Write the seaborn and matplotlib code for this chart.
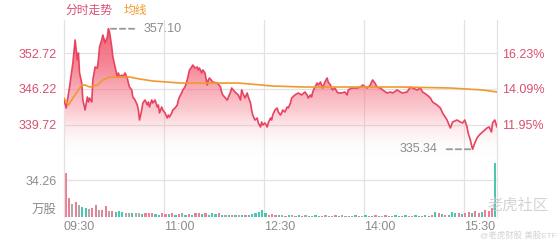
import numpy as np
import pandas as pd
import matplotlib
matplotlib.use("Agg")
import matplotlib.pyplot as plt
import seaborn as sns
from matplotlib.colors import LinearSegmentedColormap

# ---------------- data ----------------
# minutes after 09:30 and last price
price_minutes = [0, 2, 5, 8, 10, 12, 13, 14, 16, 17, 19, 21, 22, 23, 25, 26, 28, 30, 31, 32,
                 34, 35, 37, 39, 40, 41, 43, 44, 46, 48, 49, 50, 52, 53, 55, 57, 58, 59, 61, 62,
                 64, 66, 67, 68, 70, 71, 73, 75, 76, 77, 79, 80, 82, 84, 85, 86, 88, 89, 91, 93,
                 94, 95, 97, 98, 100, 102, 103, 104, 106, 107, 109, 111, 112, 113, 115, 116, 118, 120, 121, 122,
                 124, 125, 127, 129, 130, 131, 134, 138, 141, 142, 143, 147, 150, 151, 154, 157, 159, 160, 161, 163,
                 165, 166, 168, 169, 170, 172, 174, 175, 177, 178, 179, 181, 183, 184, 186, 187, 188, 190, 192, 193,
                 195, 196, 197, 199, 201, 202, 204, 205, 206, 208, 211, 214, 217, 219, 220, 222, 223, 224, 226, 228,
                 229, 231, 232, 233, 235, 237, 238, 240, 241, 242, 244, 246, 247, 250, 253, 255, 256, 259, 262, 264,
                 267, 269, 273, 276, 277, 278, 280, 282, 285, 287, 291, 294, 296, 300, 303, 305, 309, 312, 314, 318,
                 321, 323, 327, 330, 332, 336, 339, 341, 345, 348, 350, 354, 357, 359, 361, 363, 364, 366, 367, 368,
                 370, 372, 374, 377, 381, 383, 385, 386, 388, 390]
price_values = [344.23, 342.79, 346.58, 350.92, 355.07, 351.46, 352.72, 349.11, 347.30, 344.23,
                342.43, 344.78, 343.87, 344.59, 343.87, 347.85, 350.19, 350.01, 351.46, 353.81,
                355.07, 355.97, 354.53, 355.61, 357.10, 356.51, 353.81, 352.00, 350.19, 348.39,
                349.11, 348.39, 348.75, 348.39, 349.11, 348.21, 347.30, 346.58, 346.04, 344.78,
                344.23, 343.33, 342.43, 340.62, 342.43, 343.69, 344.23, 343.33, 343.87, 342.97,
                344.23, 343.69, 344.23, 342.97, 343.33, 341.89, 342.97, 342.43, 341.89, 340.98,
                341.52, 341.16, 341.89, 342.43, 342.79, 343.33, 344.23, 344.78, 345.50, 346.04,
                346.58, 347.85, 348.75, 349.65, 350.19, 350.55, 350.01, 350.19, 349.65, 350.01,
                349.11, 349.65, 349.11, 346.94, 347.85, 348.21, 347.48, 347.30, 346.58, 345.68,
                345.14, 344.23, 345.68, 346.40, 345.68, 345.14, 344.23, 346.04, 345.50, 344.59,
                345.50, 344.78, 343.69, 342.43, 341.52, 340.62, 340.98, 340.08, 339.36, 340.26,
                339.72, 340.08, 339.36, 340.08, 340.98, 340.62, 341.52, 342.43, 342.79, 342.07,
                341.52, 341.89, 342.43, 342.07, 342.97, 342.79, 343.69, 344.59, 344.78, 345.14,
                345.50, 345.14, 345.68, 345.14, 344.59, 345.14, 344.78, 345.68, 346.58, 347.30,
                346.94, 347.48, 346.94, 346.40, 347.48, 348.21, 347.48, 346.94, 346.40, 346.04,
                346.40, 345.68, 345.50, 345.50, 345.68, 345.14, 346.04, 346.40, 346.40, 346.40,
                346.58, 346.94, 346.40, 346.94, 347.48, 347.85, 347.30, 346.58, 346.40, 346.04,
                345.50, 345.68, 345.50, 346.04, 345.68, 345.50, 345.68, 346.58, 346.40, 346.04,
                346.40, 345.68, 345.14, 344.59, 343.87, 343.33, 342.79, 341.89, 340.62, 339.18,
                340.26, 340.62, 340.26, 340.08, 340.62, 339.36, 338.27, 337.01, 336.11, 335.34,
                336.47, 337.37, 337.91, 338.46, 339.18, 339.36, 338.46, 340.08, 340.62, 339.36]

avg_minutes = [0, 4, 8, 13, 16, 19, 23, 30, 35, 41, 48, 53, 59, 68, 80, 93, 104, 116, 131, 157,
               178, 187, 217, 262, 303, 348, 377, 390]
avg_values = [344.59, 343.33, 344.59, 346.04, 346.94, 346.94, 346.58, 346.94, 347.85, 348.39,
              348.39, 348.39, 348.39, 348.03, 347.66, 347.48, 347.30, 347.30, 347.30, 347.30,
              346.94, 346.76, 346.58, 346.58, 346.58, 346.40, 346.04, 345.68]

# volume (万股) in 3-minute buckets, with direction: r = up, g = down, n = flat
volume_values = [40.4, 17, 12, 14, 11, 9, 8, 7, 8, 11, 6, 6, 10, 5, 5, 4.5, 5, 4, 3.5, 3,
                 3.5, 3, 3, 2.5, 3, 3.5, 3, 2.5, 2, 3, 2.5,
                 2.5, 3, 2, 2.5, 3, 2, 2.5, 2, 3, 3.5, 2.5, 3, 2,
                 3, 2.5, 3, 2, 1.5, 2, 1.5, 2, 1.5, 2, 1.5, 2,
                 2.5, 3, 4, 6, 3, 2,
                 2.5, 2, 1.5, 1.5, 1, 1.5, 1.5, 1, 1.5, 1, 1.5, 1, 1, 1.5, 1, 1, 1.5, 1, 1, 1.5,
                 1, 1.5, 1, 1,
                 1, 1.5, 1, 1, 1.5, 1, 1, 1.5, 1, 1, 1.5, 1, 1, 1.5, 1, 1, 1.5, 1, 1, 1.5, 1, 1,
                 1.5, 1, 2,
                 4.5, 3, 2.5, 1.5, 2, 4, 3, 3.5, 2.5, 3, 4, 3, 5, 3, 4, 6, 5, 8, 50]
volume_dirs = list("rrnrnggnrrnrrnrgggnngnngrrrggrr"
                   "grgrngrgrrgrg"
                   "ggrgngrgngrggggggr"
                   "rrgnrgnrgrngrggrnrgrgnrg"
                   "rgrngrgrgnrgrggrgnrggrggr"
                   "grgrgggrgrrgrrgrrr"
                   "g")

left_ticks = [339.72, 346.22, 352.72]
left_labels = ["339.72", "346.22", "352.72"]
right_labels = ["11.95%", "14.09%", "16.23%"]
vol_tick = [34.26]
vol_tick_labels = ["34.26"]
time_ticks = [0, 90, 180, 270, 360]
time_labels = ["09:30", "11:00", "12:30", "14:00", "15:30"]

# ---------------- style ----------------
sns.set_theme(style="white")
plt.rcParams["font.family"] = ["Liberation Sans", "Noto Sans CJK SC", "DejaVu Sans"]

RED = "#e8435f"
LABEL_RED = "#d9506f"
ORANGE = "#f09a2c"
GRID = "#e2e2e2"
GREY_TXT = "#8c8c8c"

fig = plt.figure(figsize=(5.6, 2.4), dpi=100)
W, H = 560, 240
x0, x1 = 64, 497
ax = fig.add_axes([x0 / W, 1 - 158 / H, (x1 - x0) / W, 138 / H])
axv = fig.add_axes([x0 / W, 1 - 216.7 / H, (x1 - x0) / W, 58.7 / H])

price_df = pd.DataFrame({"minute": price_minutes, "price": price_values})
avg_df = pd.DataFrame({"minute": avg_minutes, "avg": avg_values})

ymin, ymax = 333.76, 358.68
ax.set_xlim(0, 390)
ax.set_ylim(ymin, ymax)

# gradient fill under the price line
poly = ax.fill_between(price_minutes, price_values, ymin, color="none", lw=0)
cmap = LinearSegmentedColormap.from_list(
    "fade", [(1, 1, 1, 0.0), (0.96, 0.45, 0.52, 0.35), (0.95, 0.38, 0.46, 0.75),
             (0.94, 0.33, 0.42, 0.95)])
grad = np.linspace(0, 1, 256).reshape(-1, 1)
im = ax.imshow(grad, cmap=cmap, aspect="auto", origin="lower",
               extent=[0, 390, ymin, ymax], zorder=1, interpolation="bicubic")
im.set_clip_path(poly.get_paths()[0], transform=ax.transData)

sns.lineplot(data=price_df, x="minute", y="price", ax=ax, color=RED, lw=1.2, zorder=3)
sns.lineplot(data=avg_df, x="minute", y="avg", ax=ax, color=ORANGE, lw=1.2, zorder=4)

# grid
for a in (ax, axv):
    for t in time_ticks[1:]:
        a.axvline(t, color=GRID, lw=0.9, zorder=0)
    for s in ("top", "bottom"):
        a.spines[s].set_visible(False)
    for s in ("left", "right"):
        a.spines[s].set_color(GRID)
        a.spines[s].set_linewidth(0.9)
for t in left_ticks:
    ax.axhline(t, color=GRID, lw=0.9, zorder=0)

ax.set_xticks([])
ax.set_yticks(left_ticks)
ax.set_yticklabels(left_labels, color=LABEL_RED, fontsize=9)
ax.tick_params(axis="y", length=0, pad=5)
ax.set_xlabel("")
ax.set_ylabel("")

ax2 = ax.twinx()
ax2.set_ylim(ymin, ymax)
ax2.set_yticks(left_ticks)
ax2.set_yticklabels(right_labels, color=LABEL_RED, fontsize=9)
ax2.tick_params(axis="y", length=0, pad=4)
for s in ax2.spines.values():
    s.set_visible(False)

# max / min annotations
imax = int(np.argmax(price_values))
imin = int(np.argmin(price_values))
ax.annotate(f"{price_values[imax]:.2f}", xy=(price_minutes[imax], price_values[imax]),
            xytext=(25, 0), textcoords="offset points", ha="left", va="center",
            fontsize=9, color=GREY_TXT,
            arrowprops=dict(arrowstyle="-", ls=(0, (3, 2)), color="#999999", lw=1.3,
                            shrinkA=4, shrinkB=1.5))
ax.annotate(f"{price_values[imin]:.2f}", xy=(price_minutes[imin], price_values[imin]),
            xytext=(-25, 0), textcoords="offset points", ha="right", va="center",
            fontsize=9, color=GREY_TXT,
            arrowprops=dict(arrowstyle="-", ls=(0, (3, 2)), color="#999999", lw=1.3,
                            shrinkA=4, shrinkB=1.5))

# volume
vol_color = {"r": "#ec7f95", "g": "#4cc6b1", "n": "#aaaaaa"}
vol_minutes = [3 * i + 1.5 for i in range(len(volume_values))]
axv.bar(vol_minutes, volume_values, width=2.0,
        color=[vol_color[d] for d in volume_dirs], lw=0, zorder=2)
axv.set_xlim(0, 390)
axv.set_ylim(0, 54.8)
axv.axhline(vol_tick[0], color=GRID, lw=0.9, zorder=0)
axv.set_yticks(vol_tick)
axv.set_yticklabels(vol_tick_labels, color=GREY_TXT, fontsize=9)
axv.tick_params(axis="y", length=0, pad=5)
axv.set_xticks(time_ticks)
axv.set_xticklabels(time_labels, color=GREY_TXT, fontsize=9, ha="left")
axv.tick_params(axis="x", length=0, pad=3)
axv.annotate("万股", xy=(0, 6.3), xycoords=("axes fraction", "data"),
             xytext=(-5, 0), textcoords="offset points", ha="right", va="center",
             fontsize=9, color=GREY_TXT)

# title legend
fig.text(65 / W, 1 - 11 / H, "分时走势", color=LABEL_RED, fontsize=8.5, va="center", ha="left")
fig.text(124 / W, 1 - 11 / H, "均线", color=ORANGE, fontsize=8.5, va="center", ha="left")

# watermark
fig.text(548 / W, 1 - 206 / H, "老虎社区", color="#c8c8c8", fontsize=11, va="center", ha="right", alpha=0.8)
fig.text(557 / W, 1 - 236 / H, "@老虎财股 美股ETF", color="#c8c8c8", fontsize=6, va="center", ha="right", alpha=0.8)

fig.savefig("out.png", dpi=100)
